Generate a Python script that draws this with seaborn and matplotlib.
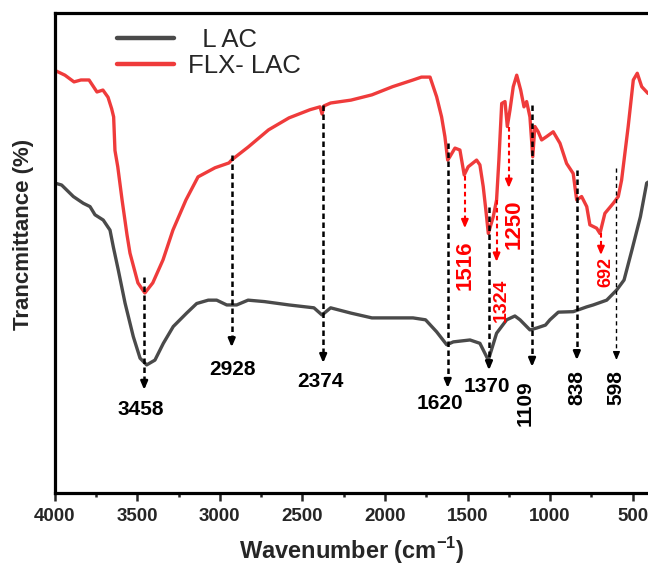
import matplotlib
matplotlib.use("Agg")
import matplotlib.pyplot as plt
import numpy as np
import pandas as pd
import seaborn as sns

# ---- FTIR spectra: wavenumber (cm-1) and transmittance (a.u. %) ----
lac_wn = [3998, 3958, 3887, 3827, 3786, 3756, 3706, 3665, 3645, 3615, 3574, 3524,
          3483, 3443, 3393, 3342, 3282, 3201, 3140, 3070, 3019, 2958, 2898, 2829,
          2730, 2581, 2430, 2381, 2329, 2206, 2079, 1954, 1830, 1754, 1687, 1626,
          1586, 1485, 1425, 1374, 1324, 1263, 1213, 1182, 1122, 1080, 1028, 1001,
          950, 860, 778, 739, 657, 597, 552, 504, 453, 415, 407]
lac_t = [64.6, 64.2, 61.8, 60.4, 59.7, 58.0, 56.9, 54.8, 51.3, 46.5, 39.6, 32.6,
         28.1, 26.7, 27.7, 31.2, 34.7, 37.5, 39.5, 40.2, 40.2, 39.2, 39.2, 40.2,
         39.9, 39.2, 38.6, 37.1, 38.6, 37.5, 36.5, 36.5, 36.5, 36.1, 33.6, 30.9,
         31.5, 31.9, 31.2, 27.7, 33.3, 36.1, 36.9, 36.1, 34.0, 34.4, 35.0, 36.1,
         37.7, 37.8, 38.8, 39.2, 40.2, 42.3, 44.4, 50.7, 57.6, 64.6, 64.8]

flx_wn = [3993, 3938, 3883, 3841, 3792, 3744, 3708, 3677, 3655, 3643, 3635, 3618,
          3592, 3562, 3544, 3496, 3454, 3406, 3344, 3284, 3205, 3132, 3029, 2945,
          2926, 2829, 2705, 2581, 2454, 2393, 2381, 2369, 2329, 2206, 2079, 1954,
          1830, 1779, 1727, 1687, 1657, 1637, 1620, 1607, 1576, 1546, 1520, 1496,
          1445, 1425, 1405, 1389, 1374, 1344, 1324, 1310, 1293, 1273, 1259, 1243,
          1223, 1202, 1178, 1158, 1142, 1122, 1105, 1092, 1072, 1051, 1021, 981,
          940, 900, 860, 839, 809, 778, 759, 718, 698, 668, 617, 587, 567, 527,
          496, 472, 445, 407]
flx_t = [88.0, 87.1, 85.7, 86.1, 86.1, 83.6, 84.0, 82.5, 80.1, 78.4, 71.4, 68.0,
         61.1, 53.8, 50.0, 43.8, 41.7, 43.8, 48.6, 54.8, 61.1, 65.9, 67.8, 68.8,
         69.5, 72.1, 75.7, 78.2, 79.9, 80.5, 79.0, 80.7, 81.3, 81.9, 83.0, 84.7,
         86.1, 86.7, 86.7, 82.6, 78.4, 74.3, 69.4, 70.1, 71.9, 71.5, 66.3, 68.0,
         69.4, 68.4, 63.9, 59.0, 54.1, 57.6, 61.1, 69.4, 81.2, 81.6, 76.4, 79.8,
         84.7, 87.1, 84.0, 80.5, 81.6, 78.4, 70.1, 76.4, 75.3, 73.6, 74.3, 75.3,
         72.9, 68.7, 66.6, 61.1, 61.8, 59.7, 55.9, 55.2, 54.1, 58.3, 60.4, 61.8,
         65.2, 76.4, 86.1, 87.5, 84.7, 83.3]

# ---- band assignments ----
lac_bands = [3458, 2928, 2374, 1620, 1370, 1109, 838, 598]
flx_bands = [1516, 1324, 1250, 692]

# dashed guide for each LAC band: start level, arrow tip level
lac_guide_top = [45.0, 70.5, 80.9, 73.0, 59.7, 80.9, 67.3, 67.7]
lac_guide_tip = [21.5, 30.4, 27.1, 21.9, 25.6, 26.3, 27.7, 27.7]
# label anchor (wavenumber, level, rotation)
lac_lab_x = [3480, 2924, 2393, 1667, 1385, 1150, 840, 604]
lac_lab_y = [17.5, 25.8, 23.3, 18.6, 22.3, 18.8, 21.9, 21.9]
lac_lab_rot = [0, 0, 0, 0, 0, 90, 90, 90]

flx_guide_top = [66.0, 61.1, 76.3, 54.2]
flx_guide_tip = [55.2, 48.2, 63.6, 49.6]
flx_lab_x = [1516, 1296, 1220, 665]
flx_lab_y = [47.5, 40.2, 56.1, 46.1]
flx_lab_size = [16, 14, 16, 13]

LAC_COLOR = "#4a4a4a"
FLX_COLOR = "#ef3b3b"
ANN_RED = "#ff0000"

sns.set_theme(style="white")
plt.rcParams["font.family"] = ["Liberation Sans", "DejaVu Sans"]
plt.rcParams["mathtext.fontset"] = "custom"
plt.rcParams["mathtext.rm"] = "Liberation Sans"
plt.rcParams["mathtext.bf"] = "Liberation Sans:bold"

df_lac = pd.DataFrame({"wn": lac_wn, "T": lac_t})
df_flx = pd.DataFrame({"wn": flx_wn, "T": flx_t})

fig = plt.figure(figsize=(6.48, 5.66), dpi=100)
ax = fig.add_axes([0.0844, 0.129, 0.9156, 0.8475])

sns.lineplot(data=df_lac, x="wn", y="T", ax=ax, color=LAC_COLOR, lw=2.4,
             label="  L AC", estimator=None, sort=False)
sns.lineplot(data=df_flx, x="wn", y="T", ax=ax, color=FLX_COLOR, lw=2.4,
             label="FLX- LAC", estimator=None, sort=False)

ax.set_xlim(4000, 407)
ax.set_ylim(0, 100)


def guide(x, top, tip, color, lw, dash):
    head = 1.4
    ax.plot([x, x], [top, tip + head], color=color, lw=lw,
            linestyle=(0, dash), zorder=4)
    ax.annotate("", xy=(x, tip), xytext=(x, tip + head),
                arrowprops=dict(arrowstyle="-|>,head_length=0.4,head_width=0.17",
                                color=color, lw=lw, shrinkA=0, shrinkB=0),
                zorder=5)


for i, b in enumerate(lac_bands):
    thin = b == 598
    guide(b, lac_guide_top[i], lac_guide_tip[i], "black",
          1.0 if thin else 1.8, (3, 2.5) if thin else (2.2, 1.4))
    ax.text(lac_lab_x[i], lac_lab_y[i], str(b), rotation=lac_lab_rot[i],
            ha="center", va="center", fontsize=15, fontweight="bold",
            color="black")

for i, b in enumerate(flx_bands):
    guide(b, flx_guide_top[i], flx_guide_tip[i], ANN_RED, 1.5, (2.2, 1.6))
    ax.text(flx_lab_x[i], flx_lab_y[i], str(b), rotation=90,
            ha="center", va="center", fontsize=flx_lab_size[i],
            fontweight="bold", color=ANN_RED)

# axes styling
ax.set_xticks([4000, 3500, 3000, 2500, 2000, 1500, 1000, 500])
ax.set_xticks(np.arange(3750, 400, -500), minor=True)
ax.set_yticks([])
ax.tick_params(axis="x", which="major", direction="out", length=6,
               width=1.8, pad=5, labelsize=13.5, bottom=True)
ax.tick_params(axis="x", which="minor", direction="out", length=3,
               width=1.8, bottom=True)
for lab in ax.get_xticklabels():
    lab.set_fontweight("bold")
for side in ["left", "bottom", "top"]:
    ax.spines[side].set_linewidth(2.3)
    ax.spines[side].set_color("black")
ax.spines["right"].set_visible(False)

ax.set_xlabel(r"Wavenumber (cm$^{\mathbf{-1}}$)", fontsize=17, fontweight="bold")
ax.xaxis.set_label_coords(0.5, -0.119)
ax.xaxis.label.set_verticalalignment("center")
ax.set_ylabel("Trancmittance (%)", fontsize=16, fontweight="bold")
ax.yaxis.set_label_coords(-0.0534, 0.538)
ax.yaxis.label.set_verticalalignment("center")

leg = ax.legend(loc="upper left", bbox_to_anchor=(0.105, 0.969), frameon=False,
                fontsize=18.5, handlelength=2.2, handletextpad=0.55,
                labelspacing=0.08, borderaxespad=0, borderpad=0)
for h in leg.get_lines():
    h.set_linewidth(3.2)

fig.savefig("out.png", dpi=100)
